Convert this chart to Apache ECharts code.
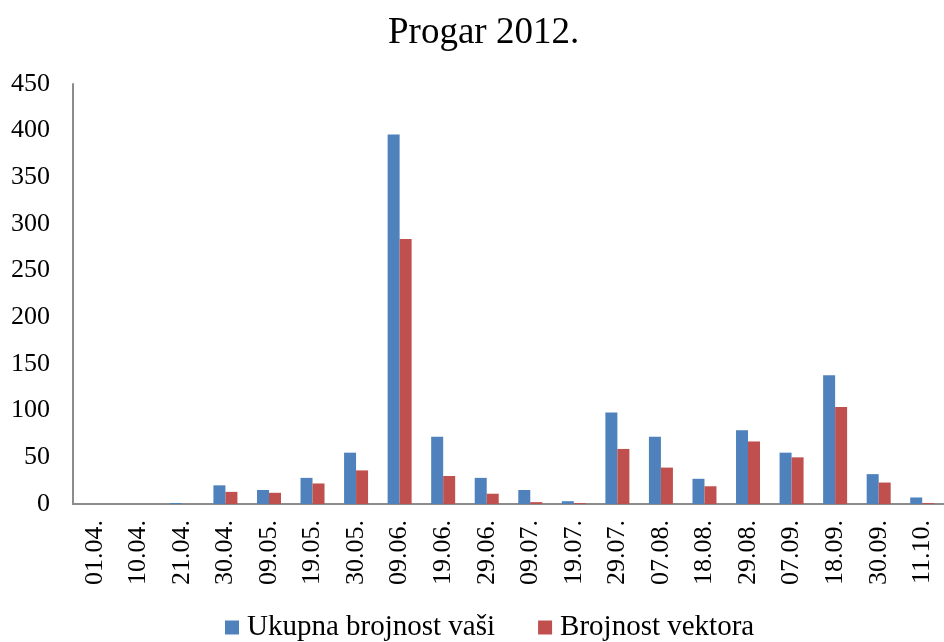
<!DOCTYPE html>
<html><head><meta charset="utf-8">
<script src="https://cdn.jsdelivr.net/npm/echarts@6/dist/echarts.min.js"></script>
<style>html,body{margin:0;padding:0;background:#fff}#c{width:944px;height:642px}</style>
</head><body><div id="c"></div>
<script>
const categories = ['01.04.','10.04.','21.04.','30.04.','09.05.','19.05.','30.05.','09.06.','19.06.','29.06.','09.07.','19.07.','29.07.','07.08.','18.08.','29.08.','07.09.','18.09.','30.09.','11.10.'];
const ukupna = [0,0,1,20,15,28,55,396,72,28,15,3,98,72,27,79,55,138,32,7];
const vektori = [0,0,0,13,12,22,36,284,30,11,2,1,59,39,19,67,50,104,23,1];
const yTicks = {min:0, max:450, interval:50};

const font = '"Liberation Serif", "Times New Roman", serif';
const chart = echarts.init(document.getElementById('c'));
chart.setOption({
  animation:false,
  title:{text:'Progar 2012.', left:383, top:10, textStyle:{fontFamily:font, fontSize:37, fontWeight:'normal', color:'#000'}},
  grid:{left:73, right:0, top:84, bottom:138},
  legend:{top:608, left:220, itemWidth:14, itemHeight:14, itemGap:43, icon:'rect',
    textStyle:{fontFamily:font, fontSize:29, color:'#000', padding:[0,0,0,3]},
    data:['Ukupna brojnost vaši','Brojnost vektora']},
  xAxis:{type:'category', data:categories,
    axisLine:{lineStyle:{color:'#8c8c8c', width:2}}, axisTick:{show:false},
    axisLabel:{rotate:90, margin:16, fontFamily:font, fontSize:26, color:'#000', interval:0}},
  yAxis:{type:'value', min:yTicks.min, max:yTicks.max, interval:yTicks.interval,
    axisLine:{show:true, lineStyle:{color:'#8c8c8c', width:2}}, axisTick:{show:false},
    splitLine:{show:false},
    axisLabel:{margin:23, fontFamily:font, fontSize:26, color:'#000'}},
  series:[
    {name:'Ukupna brojnost vaši', type:'bar', data:ukupna, barWidth:12, barGap:'0%', itemStyle:{color:'#4F81BD'}},
    {name:'Brojnost vektora', type:'bar', data:vektori, barWidth:12, barGap:'0%', itemStyle:{color:'#C0504D'}}
  ]
});
</script></body></html>
